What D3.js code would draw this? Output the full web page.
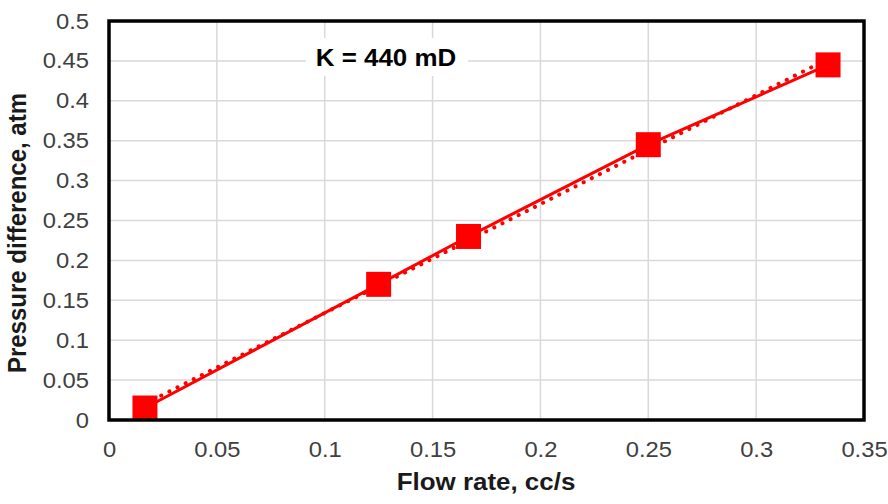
<!DOCTYPE html>
<html>
<head>
<meta charset="utf-8">
<script src="https://cdn.jsdelivr.net/npm/d3@7"></script>
<style>
  html, body { margin: 0; padding: 0; background: #fff; }
  svg { display: block; font-family: "Liberation Sans", Arial, sans-serif; }
</style>
</head>
<body>
<svg id="chart" width="888" height="504"></svg>
<script>
// Flow rate (cc/s) vs. pressure difference (atm)
const flowRate = [1 / 60, 0.125, 1 / 6, 0.25, 1 / 3];
const pressureDiff = [0.015, 0.17, 0.23, 0.345, 0.445];
const xTicks = [0, 0.05, 0.1, 0.15, 0.2, 0.25, 0.3, 0.35];
const yTicks = [0, 0.05, 0.1, 0.15, 0.2, 0.25, 0.3, 0.35, 0.4, 0.45, 0.5];
const annotation = "K = 440 mD";

const svg = d3.select("#chart");
const margin = { left: 109, right: 24, top: 21, bottom: 84 };
const W = 888, H = 504;
const SX = 1.08; // slight horizontal widening of the lettering

const x = d3.scaleLinear().domain([0, 0.35]).range([margin.left, W - margin.right]);
const y = d3.scaleLinear().domain([0, 0.5]).range([H - margin.bottom, margin.top]);

// Gridlines
svg.append("g").selectAll("line").data(xTicks).join("line")
  .attr("x1", d => x(d)).attr("x2", d => x(d))
  .attr("y1", y(0)).attr("y2", y(0.5))
  .attr("stroke", "#d9d9d9").attr("stroke-width", 1.5);
svg.append("g").selectAll("line").data(yTicks).join("line")
  .attr("y1", d => y(d)).attr("y2", d => y(d))
  .attr("x1", x(0)).attr("x2", x(0.35))
  .attr("stroke", "#d9d9d9").attr("stroke-width", 1.5);

// Axes (labels only; frame drawn separately)
const fmt = d => String(+d.toFixed(2));
const xAxis = svg.append("g")
  .attr("transform", `translate(0,${y(0)})`)
  .call(d3.axisBottom(x).tickValues(xTicks).tickFormat(fmt).tickSize(0).tickPadding(21));
const yAxis = svg.append("g")
  .attr("transform", `translate(${x(0)},0)`)
  .call(d3.axisLeft(y).tickValues(yTicks).tickFormat(fmt).tickSize(0).tickPadding(20));
[xAxis, yAxis].forEach(g => {
  g.select(".domain").remove();
  g.selectAll("text").attr("font-size", 22).attr("fill", "#404040")
    .attr("font-family", "'Liberation Sans', Arial, sans-serif");
});
xAxis.selectAll("text").attr("transform", `scale(${SX},1)`);
yAxis.selectAll("text").attr("x", -20 / SX).attr("transform", `scale(${SX},1)`);

// Linear trendline (least squares)
const n = flowRate.length;
const mx = d3.mean(flowRate), my = d3.mean(pressureDiff);
let sxy = 0, sxx = 0;
for (let i = 0; i < n; i++) {
  sxy += (flowRate[i] - mx) * (pressureDiff[i] - my);
  sxx += (flowRate[i] - mx) ** 2;
}
const slope = sxy / sxx, intercept = my - slope * mx;
const xMin = d3.min(flowRate), xMax = d3.max(flowRate);
svg.append("line")
  .attr("x1", x(xMin)).attr("y1", y(intercept + slope * xMin))
  .attr("x2", x(xMax)).attr("y2", y(intercept + slope * xMax))
  .attr("stroke", "#ff0000").attr("stroke-width", 4)
  .attr("stroke-dasharray", "0.1 9").attr("stroke-linecap", "round");

// Data line
const pts = flowRate.map((v, i) => [v, pressureDiff[i]]);
svg.append("path")
  .attr("d", d3.line().x(d => x(d[0])).y(d => y(d[1]))(pts))
  .attr("fill", "none").attr("stroke", "#ff0000").attr("stroke-width", 3);

// Square markers
const ms = 25;
svg.append("g").selectAll("rect").data(pts).join("rect")
  .attr("x", d => x(d[0]) - ms / 2).attr("y", d => y(d[1]) - ms / 2)
  .attr("width", ms).attr("height", ms).attr("fill", "#ff0000");

// Annotation with white backing
const ax = 386, ay = 57;
svg.append("rect").attr("x", ax - 80).attr("y", ay - 19).attr("width", 162).attr("height", 38).attr("fill", "#fff");
svg.append("text").attr("transform", `translate(${ax},${ay}) scale(${SX},1)`)
  .attr("text-anchor", "middle").attr("dominant-baseline", "central")
  .attr("font-size", 24).attr("font-weight", "bold").attr("fill", "#000").text(annotation);

// Plot frame
svg.append("rect")
  .attr("x", x(0)).attr("y", y(0.5))
  .attr("width", x(0.35) - x(0)).attr("height", y(0) - y(0.5))
  .attr("fill", "none").attr("stroke", "#000").attr("stroke-width", 3.5);

// Axis titles
svg.append("text").attr("transform", `translate(486,490) scale(${SX},1)`).attr("text-anchor", "middle")
  .attr("font-size", 24).attr("font-weight", "bold").attr("fill", "#1a1a1a")
  .text("Flow rate, cc/s");
svg.append("text").attr("transform", `translate(26,233) scale(${SX},1) rotate(-90)`).attr("text-anchor", "middle")
  .attr("font-size", 24).attr("font-weight", "bold").attr("fill", "#1a1a1a")
  .text("Pressure difference, atm");
</script>
</body>
</html>
